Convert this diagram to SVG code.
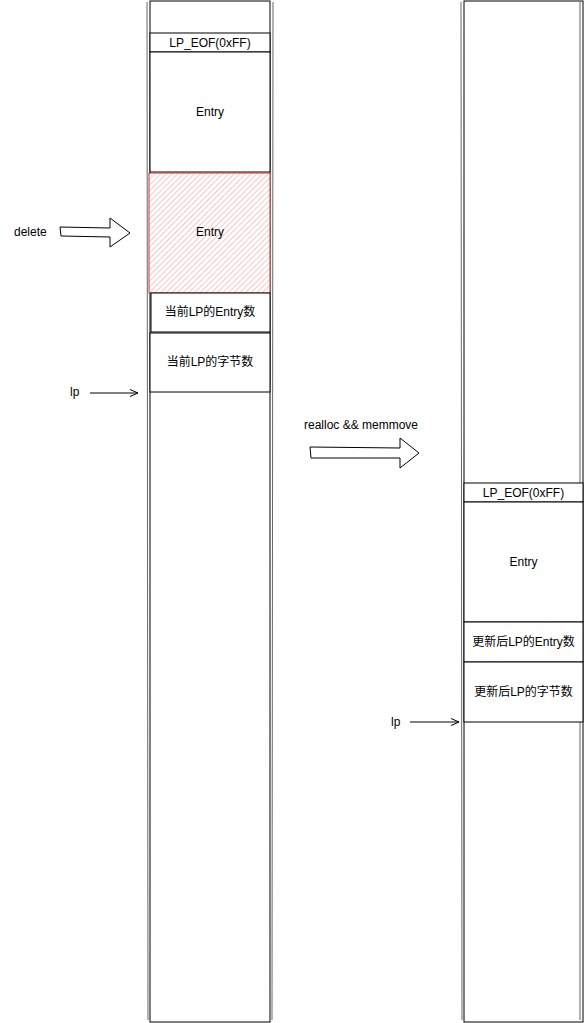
<svg xmlns="http://www.w3.org/2000/svg" width="585" height="1023" viewBox="0 0 585 1023">
<style>
.box{fill:#fff;stroke:#000;stroke-width:1}
.col{fill:none;stroke:#000;stroke-width:1}
.t{font-family:"Liberation Sans","Noto Sans CJK SC",sans-serif;font-size:12px;fill:#000;text-anchor:middle;dominant-baseline:central}
.tl{font-family:"Liberation Sans","Noto Sans CJK SC",sans-serif;font-size:12px;fill:#000;dominant-baseline:central}
.big{fill:#fff;stroke:#000;stroke-width:1}
.ln{stroke:#000;stroke-width:1;fill:none}
</style>
<defs>
<pattern id="hatch" width="4" height="4" patternUnits="userSpaceOnUse" patternTransform="rotate(45)">
<rect width="4" height="4" fill="#fff"/>
<line x1="0" y1="0" x2="0" y2="4" stroke="#f2a0a0" stroke-width="1.2"/>
</pattern>
<marker id="ah" markerWidth="8" markerHeight="8" refX="8" refY="4" orient="auto" markerUnits="userSpaceOnUse">
<path d="M0,0.5 L8,4 L0,7.5" fill="none" stroke="#000" stroke-width="1"/>
</marker>
</defs>
<g id="left-column">
<rect class="col" x="150" y="1" width="120" height="1021"/>
<line class="ln" x1="147" y1="2" x2="148" y2="1020" stroke-opacity="0.6"/>
<line class="ln" x1="273" y1="2" x2="272" y2="1020" stroke-opacity="0.6"/>
</g>
<g id="left-eof"><rect class="box" x="150" y="33" width="120" height="19"/><text class="t" x="210" y="42.5">LP_EOF(0xFF)</text></g>
<g id="left-entry1"><rect class="box" x="150" y="52" width="120" height="120"/><text class="t" x="210" y="112">Entry</text></g>
<g id="left-entry2"><rect x="149" y="173" width="121" height="120" fill="url(#hatch)" stroke="#c83232" stroke-width="1"/><text class="t" x="210" y="232">Entry</text></g>
<g id="left-count"><rect class="box" x="151" y="293" width="119" height="39"/><text class="t" x="210" y="312">当前LP的Entry数</text></g>
<g id="left-bytes"><rect class="box" x="150" y="333" width="120" height="59"/><text class="t" x="210" y="362">当前LP的字节数</text></g>
<g id="right-column">
<rect class="col" x="464" y="1" width="119" height="1021"/>
<line class="ln" x1="461" y1="2" x2="462" y2="1020" stroke-opacity="0.6"/>
<line class="ln" x1="580" y1="2" x2="580" y2="1020" stroke-opacity="0.6"/>
</g>
<g id="right-eof"><rect class="box" x="464" y="483" width="119" height="19"/><text class="t" x="523.5" y="492.5">LP_EOF(0xFF)</text></g>
<g id="right-entry"><rect class="box" x="464" y="502" width="119" height="120"/><text class="t" x="523.5" y="562">Entry</text></g>
<g id="right-count"><rect class="box" x="464" y="622" width="119" height="40"/><text class="t" x="523.5" y="642">更新后LP的Entry数</text></g>
<g id="right-bytes"><rect class="box" x="464" y="662" width="119" height="60"/><text class="t" x="523.5" y="692">更新后LP的字节数</text></g>
<g id="labels">
<text class="tl" x="14" y="232">delete</text>
<text class="tl" x="70" y="392">lp</text>
<text class="tl" x="304" y="425">realloc &amp;&amp; memmove</text>
<text class="tl" x="391" y="722">lp</text>
</g>
<g id="connectors">
<path class="big" d="M60,227 L110,228 L110,218 L130,233 L110,247 L110,237 L61,236 Z"/>
<path class="big" d="M310,447 L400,448 L400,438 L419,453 L400,468 L400,458 L311,458 Z"/>
<line class="ln" x1="90" y1="393" x2="138" y2="393" marker-end="url(#ah)"/>
<line class="ln" x1="410" y1="722" x2="459" y2="722" marker-end="url(#ah)"/>
</g>
</svg>
